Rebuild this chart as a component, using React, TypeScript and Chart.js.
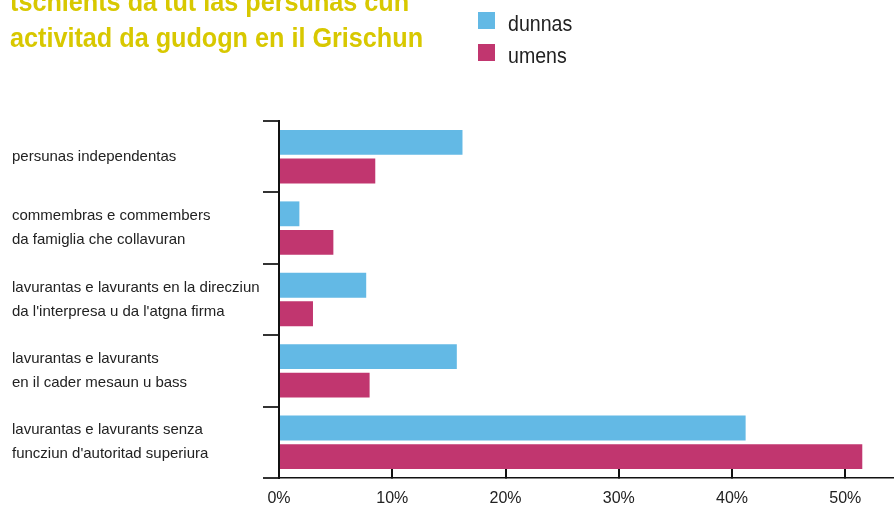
import React, { useEffect, useRef } from "react";
import { Chart, registerables } from "chart.js";

Chart.register(...registerables);

const titleLines = ["tschients da tut las persunas cun", "activitad da gudogn en il Grischun"];
const categories: string[][] = [
  ["persunas independentas"],
  ["commembras e commembers", "da famiglia che collavuran"],
  ["lavurantas e lavurants en la direcziun", "da l'interpresa u da l'atgna firma"],
  ["lavurantas e lavurants", "en il cader mesaun u bass"],
  ["lavurantas e lavurants senza", "funcziun d'autoritad superiura"],
];
const seriesNames = ["dunnas", "umens"];
const dunnas = [16.2, 1.8, 7.7, 15.7, 41.2];
const umens = [8.5, 4.8, 3.0, 8.0, 51.5];
const xTickValues = [0, 10, 20, 30, 40, 50];
const xMax = 54.3;

const BLUE = "#63b9e5";
const PINK = "#c1366f";
const YELLOW = "#d8c800";
const FONT = "'Liberation Sans', Arial, sans-serif";

export default function App() {
  const ref = useRef<HTMLCanvasElement | null>(null);
  useEffect(() => {
    if (!ref.current) return;
    const chart = new Chart(ref.current, {
      type: "bar",
      data: {
        labels: categories,
        datasets: [
          { label: seriesNames[0], data: dunnas, backgroundColor: BLUE, categoryPercentage: 0.8, barPercentage: 0.87 },
          { label: seriesNames[1], data: umens, backgroundColor: PINK, categoryPercentage: 0.8, barPercentage: 0.87 },
        ],
      },
      options: {
        indexAxis: "y",
        animation: false,
        responsive: false,
        maintainAspectRatio: false,
        layout: { padding: { left: 12, top: 121, right: 0, bottom: 0 } },
        plugins: { legend: { display: false }, tooltip: { enabled: false }, title: { display: false } },
        scales: {
          x: {
            min: 0,
            max: xMax,
            afterBuildTicks: (s: any) => {
              s.ticks = xTickValues.map((v) => ({ value: v }));
            },
            afterFit: (s: any) => {
              s.height = 28;
            },
            border: { display: true, color: "#111", width: 1.5 },
            grid: { drawOnChartArea: false, drawTicks: true, tickLength: -11, color: "#111", lineWidth: 2 },
            ticks: {
              padding: 22,
              color: "#222",
              font: { family: FONT, size: 16 },
              callback: (v: any) => v + "%",
            },
          },
          y: {
            afterFit: (s: any) => {
              s.width = 267;
            },
            border: { display: true, color: "#111", width: 2 },
            grid: { drawOnChartArea: false, drawTicks: true, tickLength: 16, color: "#333", lineWidth: 2, offset: true },
            ticks: {
              crossAlign: "far",
              color: "#222",
              font: { family: FONT, size: 15, lineHeight: 1.6 },
            },
          },
        },
      },
    });
    return () => chart.destroy();
  }, []);

  return (
    <div style={{ position: "fixed", left: 0, top: 0, width: 894, height: 506, overflow: "hidden", background: "#fff" }}>
      <canvas ref={ref} width={894} height={506} style={{ position: "absolute", left: 0, top: 0 }} />
      <div
        style={{
          position: "absolute",
          left: 10,
          top: -16,
          fontFamily: FONT,
          fontWeight: "bold",
          fontSize: 28,
          lineHeight: "36px",
          color: YELLOW,
          whiteSpace: "nowrap",
          transform: "scaleX(0.9)",
          transformOrigin: "left top",
        }}
      >
        {titleLines.map((t) => (
          <div key={t}>{t}</div>
        ))}
      </div>
      <div style={{ position: "absolute", left: 478, top: 4, fontFamily: FONT, fontSize: 22, color: "#222" }}>
        {seriesNames.map((n, i) => (
          <div key={n} style={{ display: "flex", alignItems: "center", height: 32 }}>
            <span style={{ display: "inline-block", width: 17, height: 17, background: i === 0 ? BLUE : PINK, marginRight: 13, flex: "none" }} />
            <span
              style={{
                display: "inline-block",
                position: "relative",
                top: 4,
                transform: "scaleX(0.89)",
                transformOrigin: "left center",
              }}
            >
              {n}
            </span>
          </div>
        ))}
      </div>
    </div>
  );
}
